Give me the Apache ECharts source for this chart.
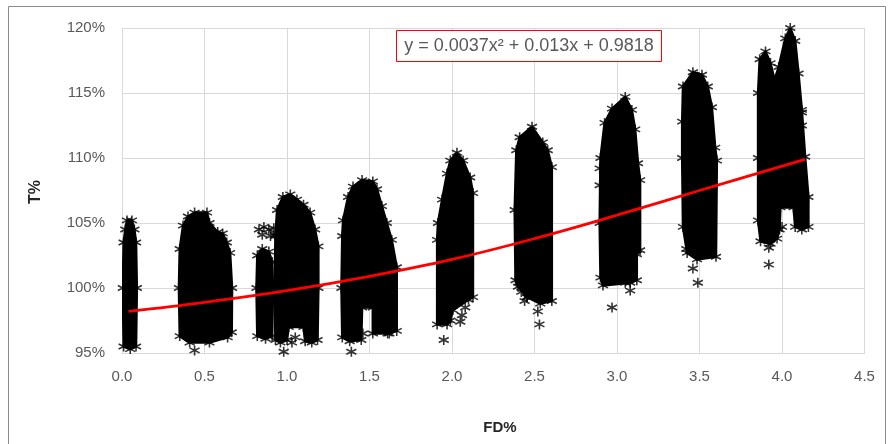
<!DOCTYPE html>
<html><head><meta charset="utf-8">
<script src="https://cdn.jsdelivr.net/npm/echarts@6/dist/echarts.min.js"></script>
<style>html,body{margin:0;padding:0;background:#fff}#c{width:888px;height:444px}</style>
</head><body><div id="c"></div>
<script>
// Axis settings
const xMin = 0, xMax = 4.5, xStep = 0.5;
const yMin = 95, yMax = 120, yStep = 5;   // T% in percent

// Outlines of the dense point clouds: [FD%, T%]
const cloud0 = [[0.01,95.5],[0.005,100],[0.01,103.5],[0.02,104.5],[0.03,105.2],[0.06,105.2],[0.075,104.5],[0.085,103.5],[0.09,100],[0.085,95.5],[0.05,95.3]];
const cloud05 = [[0.35,96.3],[0.345,100],[0.35,103],[0.37,104.8],[0.40,105.5],[0.44,105.8],[0.515,105.8],[0.53,105.0],[0.58,104.3],[0.61,104.2],[0.635,103.5],[0.655,102.7],[0.667,100],[0.665,96.6],[0.64,96.2],[0.53,95.8],[0.41,95.8]];
const cloud09 = [[0.82,96.3],[0.815,100],[0.82,102.5],[0.85,103.0],[0.89,102.8],[0.91,102.0],[0.915,100],[0.91,96.3],[0.87,96.1]];
const cloud10 = [[0.93,96],[0.925,100],[0.93,104],[0.94,106.0],[0.975,107.0],[1.02,107.2],[1.06,106.8],[1.10,106.4],[1.14,105.8],[1.17,104.5],[1.19,103.2],[1.19,100],[1.185,96],[1.15,95.8],[1.11,95.9],[1.10,97.0],[1.01,97.0],[1.0,96],[0.96,95.8]];
const cloud15 = [[1.335,96.2],[1.33,100],[1.335,104],[1.34,105.2],[1.37,107.0],[1.40,107.8],[1.455,108.3],[1.52,108.2],[1.545,107.6],[1.575,106.3],[1.605,105.0],[1.635,103.7],[1.665,101.6],[1.665,96.7],[1.62,96.5],[1.52,96.5],[1.52,98.5],[1.455,98.5],[1.45,96.0],[1.38,95.9]];
const cloud20 = [[1.91,97.2],[1.91,103.7],[1.915,105],[1.94,106.8],[1.97,108.8],[1.99,109.8],[2.03,110.4],[2.067,109.8],[2.11,108.5],[2.127,107.3],[2.127,99.3],[2.10,99.1],[2.005,98.3],[1.99,97.5],[1.97,97.2]];
const cloud25 = [[2.385,100.6],[2.38,106],[2.39,110.6],[2.41,111.6],[2.485,112.4],[2.55,111.2],[2.58,110.6],[2.605,109.3],[2.605,99.0],[2.535,98.8],[2.455,99.3],[2.40,100.1]];
const cloud30 = [[2.90,100.8],[2.895,105],[2.90,110],[2.925,112.7],[2.97,113.8],[3.05,114.7],[3.09,113.7],[3.11,112.2],[3.127,109.6],[3.14,108.3],[3.14,102.9],[3.12,102.6],[3.12,100.6],[3.08,100.4],[2.915,100.2]];
const cloud35 = [[3.40,104.7],[3.395,110],[3.395,112.8],[3.40,115.5],[3.46,116.6],[3.515,116.4],[3.55,115.5],[3.575,113.9],[3.595,110.8],[3.605,109.8],[3.60,102.4],[3.485,102.2],[3.425,102.7]];
const cloud40 = [[3.87,103.6],[3.855,105.2],[3.855,110],[3.855,115],[3.865,117.6],[3.90,118.2],[3.93,117.3],[3.955,116.0],[3.98,117.0],[4.02,119.2],[4.05,120.0],[4.08,119.0],[4.10,116.5],[4.12,113.7],[4.14,110.1],[4.16,107],[4.16,104.7],[4.12,104.5],[4.08,104.7],[4.07,106.2],[3.99,106.2],[3.985,104.5],[3.97,103.8],[3.93,103.4]];

// Isolated asterisk points
const strayX = [0.44,0.83,0.86,0.89,0.92,0.85,0.90,0.93,0.98,1.03,1.05,1.39,1.46,1.61,1.95,2.05,2.08,2.06,2.42,2.44,2.455,2.52,2.53,2.895,2.895,3.05,3.08,2.97,3.46,3.49,3.42,3.92,3.92,4.00,4.12,4.12];
const strayY = [95.2,104.5,104.7,104.5,104.6,104.1,104.0,104.1,95.1,95.8,96.2,95.1,96.5,96.5,96.0,97.4,98.5,97.9,99.7,99.0,99.3,98.2,97.2,109.2,107.9,100.4,99.8,98.5,101.5,100.4,103.0,101.8,103.1,104.7,113.5,112.5];

// Trend line points
const trendX = [0.04,0.5,1.0,1.5,2.0,2.5,3.0,3.5,4.14];
const trendY = [98.2,98.9,99.8,100.9,102.2,103.8,105.6,107.5,109.9];

const equationText = 'y = 0.0037x\u00B2 + 0.013x + 0.9818';
const xTitle = 'FD%';
const yTitle = 'T%';

const clouds = [cloud0, cloud05, cloud09, cloud10, cloud15, cloud20, cloud25, cloud30, cloud35, cloud40];
const edgePts = [];
clouds.forEach(c => c.forEach(p => edgePts.push(p)));
const strayPts = strayX.map((x, i) => [x, strayY[i]]);
const trendPts = trendX.map((x, i) => [x, trendY[i]]);

const star = 'path://M5,0L5,10M0.7,2.5L9.3,7.5M0.7,7.5L9.3,2.5';
const font = '"Liberation Sans", Arial, sans-serif';
const labelColor = '#595959';
const gridColor = '#d9d9d9';

const chart = echarts.init(document.getElementById('c'), null, {renderer: 'canvas'});
chart.setOption({
  animation: false,
  backgroundColor: '#fff',
  grid: {left: 122, right: 23.5, top: 28, bottom: 91},
  xAxis: {
    type: 'value', min: xMin, max: xMax, interval: xStep,
    axisLine: {show: true, lineStyle: {color: gridColor, width: 1}},
    axisTick: {show: false},
    splitLine: {show: true, lineStyle: {color: gridColor, width: 1}},
    axisLabel: {color: labelColor, fontFamily: font, fontSize: 15, margin: 16,
      formatter: v => v.toFixed(1)}
  },
  yAxis: {
    type: 'value', min: yMin, max: yMax, interval: yStep,
    axisLine: {show: true, lineStyle: {color: gridColor, width: 1}},
    axisTick: {show: false},
    splitLine: {show: true, lineStyle: {color: gridColor, width: 1}},
    axisLabel: {color: labelColor, fontFamily: font, fontSize: 15, margin: 17,
      formatter: v => v + '%'}
  },
  series: [
    {
      type: 'custom', z: 2, clip: true,
      data: clouds.map(c => c[0]),
      encode: {x: 0, y: 1},
      renderItem: function (params, api) {
        const pts = clouds[params.dataIndex].map(p => api.coord(p));
        return {type: 'polygon', shape: {points: pts},
          style: {fill: '#000', stroke: '#000', lineWidth: 2.5, lineJoin: 'round'}};
      }
    },
    {
      type: 'scatter', z: 3, clip: true,
      data: edgePts.concat(strayPts),
      symbol: star, symbolSize: 10,
      itemStyle: {color: 'none', borderColor: '#000', borderWidth: 1.6},
      emphasis: {disabled: true}
    },
    {
      type: 'line', z: 5, data: trendPts, smooth: 0.4, showSymbol: false,
      lineStyle: {color: '#ff0000', width: 2.8}
    }
  ],
  graphic: [
    {type: 'rect', z: 10, shape: {x: 8.5, y: 6.5, width: 877, height: 460},
      style: {fill: 'none', stroke: '#8c8c8c', lineWidth: 1}},
    {type: 'rect', z: 10, shape: {x: 396.5, y: 30.5, width: 265, height: 31},
      style: {fill: '#fff', stroke: '#ff0000', lineWidth: 1}},
    {type: 'text', z: 11, x: 529, y: 46,
      style: {text: equationText, font: '18px ' + font, fill: labelColor,
        textAlign: 'center', textVerticalAlign: 'middle'}},
    {type: 'text', z: 11, x: 500, y: 428,
      style: {text: xTitle, font: 'bold 15px ' + font, fill: '#262626',
        textAlign: 'center', textVerticalAlign: 'middle'}},
    {type: 'text', z: 11, x: 36, y: 192, rotation: Math.PI / 2,
      style: {text: yTitle, font: 'bold 16px ' + font, fill: '#262626',
        textAlign: 'center', textVerticalAlign: 'middle'}}
  ]
});
</script>
</body></html>
